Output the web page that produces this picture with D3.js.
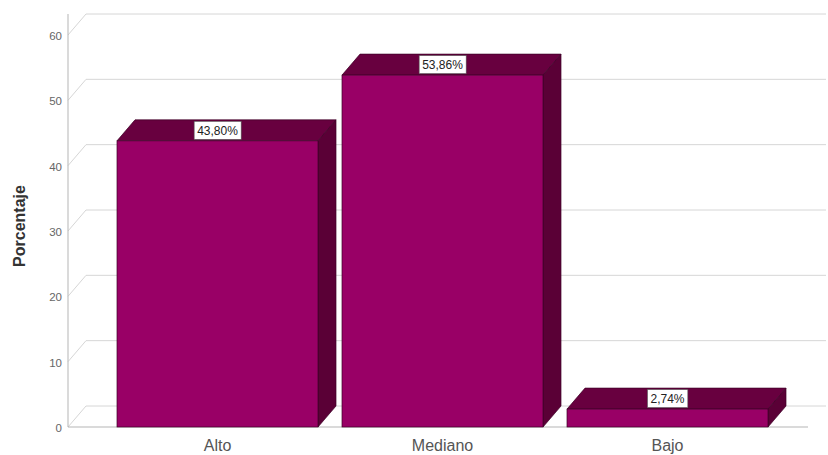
<!DOCTYPE html>
<html>
<head>
<meta charset="utf-8">
<script src="https://cdn.jsdelivr.net/npm/d3@7"></script>
<style>
html,body{margin:0;padding:0;background:#fff;}
svg{display:block;font-family:Arial,"Liberation Sans",sans-serif;}
</style>
</head>
<body>
<svg id="chart" width="828" height="455"></svg>
<script>
const categories = ["Alto", "Mediano", "Bajo"];
const values = [43.80, 53.86, 2.74];
const valueLabels = ["43,80%", "53,86%", "2,74%"];
const yTicks = [0, 10, 20, 30, 40, 50, 60];
const yTitle = "Porcentaje";

const svg = d3.select("#chart");
const dx = 18, dy = -21;            // depth offset of the 3D box
const x0 = 68, x1 = 808;           // front plane horizontal extent

const y = d3.scaleLinear().domain([0, 60]).range([427, 35]);
const x = d3.scaleBand().domain(categories).range([105, 780])
  .paddingInner(24/225).paddingOuter(12/225);

// back wall gridlines + left wall diagonals
const grid = svg.append("g");
yTicks.forEach(t => {
  grid.append("line")
    .attr("x1", x0 + dx).attr("x2", x1 + dx)
    .attr("y1", y(t) + dy).attr("y2", y(t) + dy)
    .attr("stroke", "#d6d6d6").attr("stroke-width", 1);
  grid.append("line")
    .attr("x1", x0).attr("y1", y(t))
    .attr("x2", x0 + dx).attr("y2", y(t) + dy)
    .attr("stroke", "#d6d6d6").attr("stroke-width", 1);
});

// axis lines
svg.append("line").attr("x1", x0).attr("x2", x0)
  .attr("y1", y(60) + dy).attr("y2", y(0))
  .attr("stroke", "#b5b5b5");
svg.append("line").attr("x1", x0).attr("x2", x1)
  .attr("y1", y(0)).attr("y2", y(0))
  .attr("stroke", "#b5b5b5");

// y tick labels
svg.append("g").selectAll("text").data(yTicks).join("text")
  .attr("x", x0 - 6).attr("y", d => y(d) + 1)
  .attr("dy", "0.35em").attr("text-anchor", "end")
  .attr("font-size", 11.5).attr("fill", "#666")
  .text(d => d);

// y title
svg.append("text")
  .attr("transform", `translate(25,226) rotate(-90)`)
  .attr("text-anchor", "middle").attr("font-size", 16)
  .attr("font-weight", "bold").attr("fill", "#333")
  .text(yTitle);

// bars
const data = categories.map((c, i) => ({c, v: values[i], lab: valueLabels[i]}));
const bars = svg.append("g").selectAll("g").data(data).join("g");
const stroke = "#3d0026";

bars.append("path") // top face
  .attr("d", d => {
    const l = x(d.c), r = l + x.bandwidth(), t = y(d.v);
    return `M${l},${t}L${l+dx},${t+dy}L${r+dx},${t+dy}L${r},${t}Z`;
  })
  .attr("fill", "#68003f").attr("stroke", stroke).attr("stroke-width", 0.7);

bars.append("path") // side face
  .attr("d", d => {
    const r = x(d.c) + x.bandwidth(), t = y(d.v), b = y(0);
    return `M${r},${t}L${r+dx},${t+dy}L${r+dx},${b+dy}L${r},${b}Z`;
  })
  .attr("fill", "#5a0036").attr("stroke", stroke).attr("stroke-width", 0.7);

bars.append("rect") // front face
  .attr("x", d => x(d.c)).attr("y", d => y(d.v))
  .attr("width", x.bandwidth()).attr("height", d => y(0) - y(d.v))
  .attr("fill", "#990066").attr("stroke", stroke).attr("stroke-width", 0.7);

// value labels
bars.each(function(d) {
  const g = d3.select(this);
  const cx = x(d.c) + x.bandwidth() / 2;
  const cy = y(d.v) + dy / 2;
  const t = g.append("text").attr("x", cx).attr("y", cy)
    .attr("dy", "0.35em").attr("text-anchor", "middle")
    .attr("font-size", 12).attr("fill", "#222").text(d.lab);
  const bb = t.node().getBBox();
  g.insert("rect", "text")
    .attr("x", bb.x - 3).attr("y", cy - 9)
    .attr("width", bb.width + 6).attr("height", 18)
    .attr("fill", "#fff").attr("stroke", "#555").attr("stroke-width", 0.6);
});

// x labels
svg.append("g").selectAll("text").data(categories).join("text")
  .attr("x", d => x(d) + x.bandwidth() / 2).attr("y", 445)
  .attr("dy", "0.35em").attr("text-anchor", "middle")
  .attr("font-size", 16).attr("fill", "#555")
  .text(d => d);
</script>
</body>
</html>
